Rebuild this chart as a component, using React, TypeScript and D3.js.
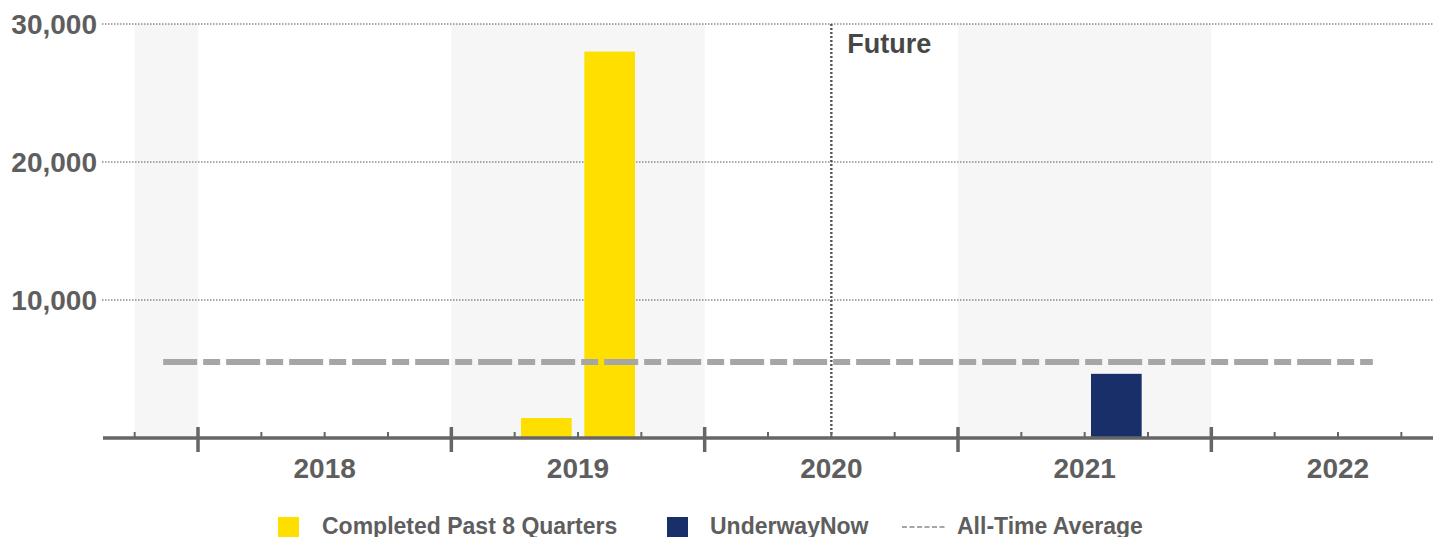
import React from "react";
import * as d3 from "d3";

// Quarter index 0 = 2018 Q1
const years = ["2018", "2019", "2020", "2021", "2022"];
const yearStartIdx = [0, 4, 8, 12, 16];
const shadedRanges: [number, number][] = [[-1, 0], [4, 8], [12, 16]];
const completedQuarters = [5, 6];
const completedValues = [1450, 28000];
const underwayQuarters = [14];
const underwayValues = [4650];
const allTimeAverage = 5500;
const yTicks = [10000, 20000, 30000];
const futureIdx = 10;
const legendLabels = ["Completed Past 8 Quarters", "UnderwayNow", "All-Time Average"];

const W = 1440, H = 537;
const FONT = "'Liberation Sans', Arial, sans-serif";
const TXT = "#5e5e5e";
const YELLOW = "#FFDF00";
const NAVY = "#192f6a";

export default function App() {
  const x = d3.scaleLinear().domain([-1.5, 19.5]).range([103, 1433]);
  const y = d3.scaleLinear().domain([0, 30000]).range([438, 24]);
  const q = x(1) - x(0);
  const bw = q * 0.8;
  const minorTicks = d3.range(-1, 20);
  const fmt = d3.format(",");
  const [y0] = y.range();
  const yTop = y(30000);
  return (
    <svg width={W} height={H} style={{ position: "absolute", left: 0, top: 0, background: "#fff" }} fontFamily={FONT}>
      {shadedRanges.map(([a, b], i) => (
        <rect key={"s" + i} x={x(a)} y={yTop} width={x(b) - x(a)} height={y0 - yTop} fill="#f6f6f6" />
      ))}
      {yTicks.map((t) => (
        <g key={"g" + t}>
          <line x1={102} x2={1433} y1={y(t)} y2={y(t)} stroke="#555" strokeWidth={1.2} strokeDasharray="1.5,1.5" />
          <text x={97} y={y(t) + 10} textAnchor="end" fontSize={28} fontWeight="bold" fill={TXT}>{fmt(t)}</text>
        </g>
      ))}
      <line x1={x(futureIdx)} x2={x(futureIdx)} y1={yTop} y2={y0} stroke="#555" strokeWidth={2.4} strokeDasharray="2,2" />
      <text x={x(futureIdx) + 16} y={53} fontSize={27} fontWeight="bold" fill="#474747">Future</text>
      {completedQuarters.map((qi, i) => (
        <rect key={"c" + qi} x={x(qi + 0.5) - bw / 2} y={y(completedValues[i])} width={bw} height={y0 - y(completedValues[i])} fill={YELLOW} />
      ))}
      {underwayQuarters.map((qi, i) => (
        <rect key={"u" + qi} x={x(qi + 0.5) - bw / 2} y={y(underwayValues[i])} width={bw} height={y0 - y(underwayValues[i])} fill={NAVY} />
      ))}
      <line x1={x(-0.55)} x2={x(18.55)} y1={y(allTimeAverage)} y2={y(allTimeAverage)} stroke="#a6a6a6" strokeWidth={6} strokeDasharray="34,6,17,6" />
      <line x1={103} x2={1433} y1={y0} y2={y0} stroke="#666" strokeWidth={3.5} />
      {minorTicks.map((t) => (
        <line key={"m" + t} x1={x(t)} x2={x(t)} y1={y0 - 6} y2={y0} stroke="#666" strokeWidth={2} />
      ))}
      {yearStartIdx.map((t) => (
        <line key={"M" + t} x1={x(t)} x2={x(t)} y1={y0 - 11} y2={y0 + 14} stroke="#666" strokeWidth={3.5} />
      ))}
      {years.map((yr, i) => (
        <text key={yr} x={x(yearStartIdx[i] + 2)} y={478} textAnchor="middle" fontSize={28} fontWeight="bold" fill={TXT}>{yr}</text>
      ))}
      <rect x={278} y={517} width={21} height={21} fill={YELLOW} />
      <text x={322} y={534} fontSize={23} fontWeight="bold" fill={TXT}>{legendLabels[0]}</text>
      <rect x={667} y={517} width={21} height={21} fill={NAVY} />
      <text x={710} y={534} fontSize={23} fontWeight="bold" fill={TXT}>{legendLabels[1]}</text>
      <line x1={902} x2={946} y1={527} y2={527} stroke="#a6a6a6" strokeWidth={2} strokeDasharray="5,2.5" />
      <text x={957} y={534} fontSize={23} fontWeight="bold" fill={TXT}>{legendLabels[2]}</text>
    </svg>
  );
}
